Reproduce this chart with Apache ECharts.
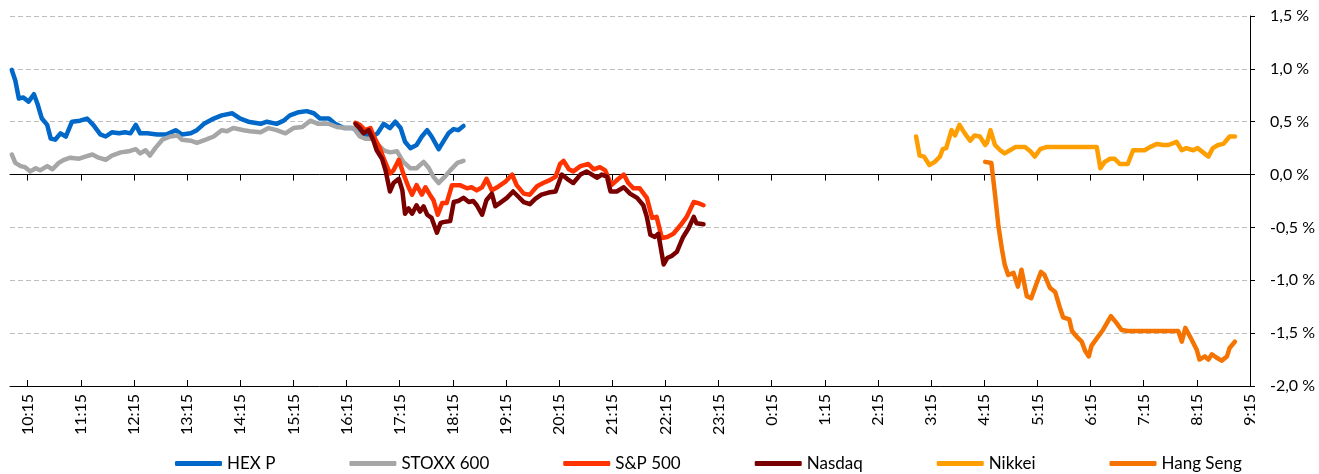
<!DOCTYPE html>
<html>
<head>
<meta charset="utf-8">
<script src="https://cdn.jsdelivr.net/npm/echarts@6/dist/echarts.min.js"></script>
<style>
  html, body { margin: 0; padding: 0; background: #fff; }
  #chart { width: 1319px; height: 474px; }
</style>
</head>
<body>
<div id="chart"></div>
<script>
// Tick labels (hourly, from 10:15 to 9:15 next day)
const tickLabels = ['10:15','11:15','12:15','13:15','14:15','15:15','16:15','17:15','18:15','19:15','20:15','21:15','22:15','23:15','0:15','1:15','2:15','3:15','4:15','5:15','6:15','7:15','8:15','9:15'];
const seriesNames = ['HEX P','STOXX 600','S&P 500','Nasdaq','Nikkei','Hang Seng'];

// Series values: [time, % change]
const hexP = [['9:57',0.99],['10:01',0.89],['10:05',0.72],['10:10',0.73],['10:16',0.69],['10:22',0.76],['10:26',0.67],['10:31',0.53],['10:37',0.47],['10:41',0.34],['10:46',0.33],['10:52',0.39],['10:58',0.36],['11:05',0.50],['11:14',0.51],['11:22',0.53],['11:29',0.47],['11:37',0.38],['11:43',0.36],['11:50',0.40],['11:58',0.39],['12:05',0.40],['12:11',0.39],['12:17',0.47],['12:22',0.39],['12:30',0.39],['12:41',0.38],['12:52',0.38],['13:02',0.42],['13:09',0.38],['13:19',0.39],['13:26',0.42],['13:34',0.48],['13:45',0.53],['13:54',0.56],['14:06',0.58],['14:15',0.53],['14:24',0.50],['14:38',0.48],['14:45',0.50],['14:56',0.48],['15:04',0.51],['15:11',0.56],['15:21',0.59],['15:30',0.60],['15:38',0.58],['15:45',0.53],['15:55',0.53],['16:02',0.48],['16:12',0.44],['16:21',0.44],['16:30',0.42],['16:36',0.38],['16:44',0.36],['16:50',0.39],['16:57',0.48],['17:04',0.44],['17:10',0.50],['17:16',0.44],['17:21',0.31],['17:27',0.25],['17:34',0.28],['17:40',0.36],['17:46',0.42],['17:51',0.36],['17:59',0.24],['18:04',0.31],['18:10',0.39],['18:16',0.43],['18:21',0.42],['18:27',0.46]];

const stoxx600 = [['9:57',0.19],['10:01',0.11],['10:07',0.08],['10:12',0.07],['10:18',0.03],['10:24',0.06],['10:29',0.04],['10:37',0.08],['10:43',0.05],['10:50',0.11],['10:56',0.14],['11:03',0.16],['11:13',0.15],['11:20',0.17],['11:28',0.19],['11:35',0.16],['11:43',0.14],['11:50',0.18],['12:00',0.21],['12:09',0.22],['12:17',0.24],['12:22',0.20],['12:28',0.23],['12:33',0.18],['12:39',0.25],['12:47',0.33],['12:56',0.36],['13:04',0.37],['13:09',0.33],['13:19',0.32],['13:26',0.30],['13:36',0.33],['13:45',0.36],['13:54',0.42],['14:00',0.41],['14:07',0.44],['14:19',0.42],['14:26',0.41],['14:38',0.40],['14:47',0.44],['14:56',0.42],['15:06',0.39],['15:15',0.44],['15:25',0.45],['15:34',0.51],['15:43',0.48],['15:55',0.48],['16:04',0.45],['16:14',0.44],['16:23',0.44],['16:30',0.36],['16:36',0.34],['16:44',0.34],['16:51',0.28],['16:57',0.23],['17:04',0.21],['17:12',0.22],['17:19',0.12],['17:27',0.06],['17:34',0.06],['17:42',0.12],['17:48',0.06],['17:53',-0.02],['17:59',-0.08],['18:06',-0.02],['18:12',0.04],['18:20',0.11],['18:27',0.13]];

const sp500 = [['16:25',0.49],['16:30',0.47],['16:36',0.42],['16:42',0.44],['16:47',0.34],['16:52',0.26],['16:57',0.15],['17:04',0.01],['17:08',0.04],['17:14',0.14],['17:19',0.01],['17:25',-0.12],['17:29',-0.19],['17:34',-0.10],['17:40',-0.19],['17:44',-0.12],['17:49',-0.19],['17:53',-0.24],['17:58',-0.38],['18:03',-0.27],['18:08',-0.27],['18:14',-0.10],['18:23',-0.10],['18:31',-0.13],['18:36',-0.12],['18:42',-0.15],['18:48',-0.12],['18:53',-0.04],['18:59',-0.15],['19:05',-0.12],['19:14',-0.07],['19:22',0.00],['19:27',-0.10],['19:35',-0.18],['19:42',-0.19],['19:50',-0.11],['19:57',-0.08],['20:05',-0.05],['20:11',-0.02],['20:16',0.10],['20:20',0.13],['20:26',0.05],['20:31',0.03],['20:39',0.08],['20:48',0.10],['20:54',0.05],['21:01',0.07],['21:07',0.04],['21:14',-0.10],['21:22',-0.04],['21:28',0.00],['21:33',-0.08],['21:39',-0.13],['21:46',-0.13],['21:54',-0.22],['22:00',-0.41],['22:05',-0.40],['22:11',-0.60],['22:17',-0.59],['22:24',-0.56],['22:32',-0.48],['22:39',-0.40],['22:47',-0.26],['22:52',-0.27],['22:58',-0.29]];

const nasdaq = [['16:25',0.48],['16:30',0.44],['16:34',0.39],['16:40',0.42],['16:45',0.33],['16:49',0.23],['16:55',0.15],['16:59',0.04],['17:04',-0.16],['17:08',-0.08],['17:14',-0.04],['17:18',-0.15],['17:21',-0.37],['17:25',-0.32],['17:29',-0.37],['17:34',-0.29],['17:38',-0.35],['17:42',-0.30],['17:46',-0.38],['17:51',-0.41],['17:57',-0.55],['18:01',-0.46],['18:04',-0.45],['18:12',-0.44],['18:16',-0.26],['18:21',-0.25],['18:27',-0.22],['18:33',-0.26],['18:38',-0.25],['18:42',-0.29],['18:48',-0.38],['18:53',-0.24],['18:59',-0.18],['19:03',-0.30],['19:08',-0.27],['19:16',-0.22],['19:23',-0.16],['19:29',-0.21],['19:35',-0.26],['19:42',-0.28],['19:48',-0.23],['19:55',-0.19],['20:03',-0.17],['20:11',-0.16],['20:18',0.00],['20:24',-0.04],['20:31',-0.08],['20:39',0.00],['20:46',0.03],['20:52',0.00],['20:58',-0.03],['21:03',0.00],['21:09',-0.02],['21:13',-0.16],['21:20',-0.16],['21:28',-0.12],['21:35',-0.18],['21:43',-0.22],['21:50',-0.29],['21:54',-0.40],['21:58',-0.57],['22:03',-0.59],['22:07',-0.56],['22:13',-0.85],['22:17',-0.79],['22:22',-0.77],['22:28',-0.73],['22:35',-0.59],['22:41',-0.51],['22:47',-0.40],['22:50',-0.46],['22:58',-0.47]];

const nikkei = [['2:58',0.36],['3:02',0.18],['3:07',0.17],['3:13',0.09],['3:19',0.12],['3:25',0.17],['3:28',0.24],['3:32',0.25],['3:38',0.42],['3:42',0.37],['3:47',0.47],['3:53',0.39],['3:59',0.32],['4:04',0.37],['4:10',0.36],['4:16',0.28],['4:18',0.30],['4:22',0.42],['4:27',0.28],['4:33',0.23],['4:38',0.20],['4:44',0.23],['4:50',0.26],['5:01',0.26],['5:07',0.22],['5:12',0.17],['5:18',0.24],['5:25',0.26],['6:22',0.26],['6:26',0.06],['6:31',0.12],['6:37',0.15],['6:42',0.15],['6:48',0.10],['6:57',0.10],['7:03',0.23],['7:16',0.23],['7:22',0.26],['7:30',0.29],['7:37',0.28],['7:43',0.28],['7:52',0.31],['7:58',0.23],['8:03',0.25],['8:11',0.23],['8:16',0.25],['8:22',0.21],['8:28',0.17],['8:33',0.25],['8:39',0.28],['8:45',0.29],['8:52',0.36],['8:58',0.36]];

const hangSeng = [['4:16',0.12],['4:23',0.11],['4:27',-0.18],['4:31',-0.49],['4:35',-0.71],['4:38',-0.85],['4:42',-0.95],['4:48',-0.93],['4:53',-1.06],['4:57',-0.90],['5:03',-1.15],['5:08',-1.17],['5:14',-1.03],['5:19',-0.92],['5:23',-0.95],['5:29',-1.07],['5:35',-1.11],['5:40',-1.25],['5:44',-1.35],['5:51',-1.37],['5:54',-1.48],['5:59',-1.53],['6:05',-1.58],['6:09',-1.67],['6:13',-1.72],['6:16',-1.62],['6:22',-1.55],['6:29',-1.47],['6:38',-1.34],['6:44',-1.40],['6:50',-1.47],['6:57',-1.48],['7:54',-1.48],['7:58',-1.58],['8:02',-1.45],['8:09',-1.56],['8:15',-1.66],['8:18',-1.75],['8:24',-1.72],['8:28',-1.75],['8:32',-1.70],['8:37',-1.73],['8:43',-1.76],['8:49',-1.72],['8:52',-1.64],['8:58',-1.58]];

const colors = ['#0068C8', '#A6A6A6', '#FF3300', '#7A0000', '#FF9E00', '#F57300'];

// time "H:MM" -> minutes after 10:15; times before 9:30 belong to the next day
function toMin(s) {
  const p = s.split(':').map(Number);
  let t = p[0] * 60 + p[1] - 615;
  if (t < -45) t += 1440;
  return t;
}
const tickValues = tickLabels.map(toMin);
const labelMap = {};
tickLabels.forEach(function (l, i) { labelMap[tickValues[i]] = l; });

const allData = [hexP, stoxx600, sp500, nasdaq, nikkei, hangSeng];
const FONT = 'Lato, "Open Sans", sans-serif';

const chart = echarts.init(document.getElementById('chart'), null, { renderer: 'canvas' });
const xCommon = { type: 'value', min: -20, max: 1380, splitLine: { show: false } };

chart.setOption({
  animation: false,
  color: colors,
  textStyle: { fontFamily: FONT },
  grid: { left: 10, right: 69, top: 16, bottom: 88, containLabel: false },
  legend: {
    left: 170, bottom: -3,
    icon: 'roundRect', itemWidth: 47, itemHeight: 5, itemGap: 74,
    textStyle: { fontSize: 17, color: '#000', fontFamily: FONT },
    data: seriesNames
  },
  xAxis: [
    Object.assign({}, xCommon, {
      position: 'bottom',
      axisLine: { show: true, onZero: true, lineStyle: { color: '#000', width: 1 } },
      axisTick: { show: true, customValues: tickValues, inside: false, length: 6, lineStyle: { color: '#000' } },
      axisLabel: { show: false }
    }),
    Object.assign({}, xCommon, {
      position: 'bottom',
      axisLine: { show: true, onZero: true, lineStyle: { color: '#000', width: 1 } },
      axisTick: { show: true, customValues: tickValues, inside: true, length: 6, lineStyle: { color: '#000' } },
      axisLabel: { show: false }
    }),
    Object.assign({}, xCommon, {
      position: 'bottom',
      axisLine: { show: false, onZero: false },
      axisTick: { show: false },
      axisLabel: {
        show: true, customValues: tickValues, rotate: 90, margin: 8,
        showMinLabel: true, showMaxLabel: true, hideOverlap: false,
        fontSize: 16, color: '#000', fontFamily: FONT,
        formatter: function (v) { return labelMap[v] || ''; }
      }
    })
  ],
  yAxis: {
    type: 'value', position: 'right',
    min: -2, max: 1.5, interval: 0.5,
    axisLine: { show: true, onZero: false, lineStyle: { color: '#000', width: 1 } },
    axisTick: { show: true, inside: false, length: 5, lineStyle: { color: '#000' } },
    axisLabel: {
      margin: 20, fontSize: 16, color: '#000', fontFamily: FONT,
      formatter: function (v) { return v.toFixed(1).replace('.', ',') + ' %'; }
    },
    splitLine: { show: true, lineStyle: { color: '#BFBFBF', type: [5, 3], width: 1 } }
  },
  series: seriesNames.map(function (name, i) {
    return {
      name: name, type: 'line', xAxisIndex: 0,
      symbol: 'none', smooth: false,
      lineStyle: { width: 4.5, color: colors[i], join: 'round', cap: 'round' },
      itemStyle: { color: colors[i] },
      data: allData[i].map(function (d) { return [toMin(d[0]), d[1]]; })
    };
  })
});
</script>
</body>
</html>
